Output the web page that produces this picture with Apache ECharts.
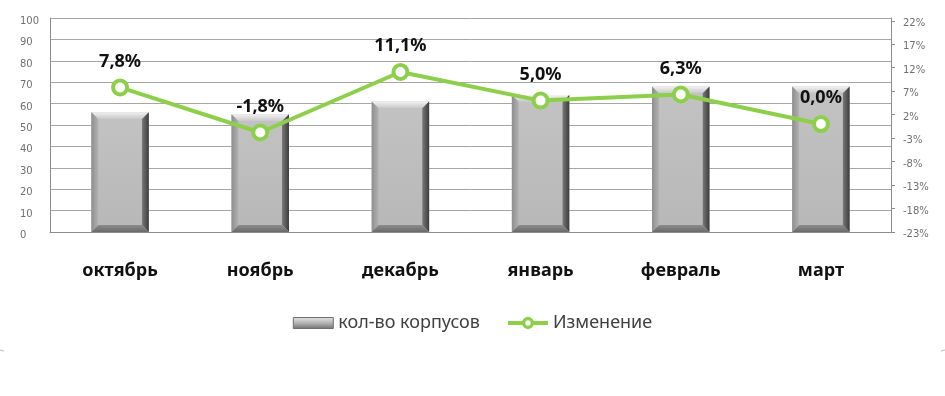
<!DOCTYPE html>
<html><head><meta charset="utf-8">
<script src="https://cdn.jsdelivr.net/npm/echarts@6/dist/echarts.min.js"></script>
<style>html,body{margin:0;padding:0;background:#fff}#c{width:945px;height:396px}</style>
</head><body><div id="c"></div>
<script>
const categories = ['октябрь','ноябрь','декабрь','январь','февраль','март'];
const buildings = [56, 55, 61, 64, 68, 68];
const changePct = [7.8, -1.8, 11.1, 5.0, 6.3, 0.0];
const rightTicks = [-23, -18, -13, -8, -3, 2, 7, 12, 17, 22];
const leftTicks = [0,10,20,30,40,50,60,70,80,90,100];

const G = echarts.graphic;
const chart = echarts.init(document.getElementById('c'));

function renderBevelBar(params, api){
  const idx = api.value(0), v = api.value(1);
  const top = api.coord([idx, v]), bot = api.coord([idx, 0]);
  const w = api.size([1,0])[0]*0.41;
  const x0 = top[0]-w/2, x1 = top[0]+w/2, y0 = top[1], y1 = bot[1], b = 7;
  return {type:'group', children:[
    {type:'rect', shape:{x:x0,y:y0,width:w,height:y1-y0}, style:{fill:'#bdbdbd'}},
    {type:'polygon', shape:{points:[[x0,y0],[x1,y0],[x1-b,y0+b],[x0+b,y0+b]]},
      style:{fill:new G.LinearGradient(0,0,0,1,[{offset:0,color:'#f2f2f2'},{offset:1,color:'#c6c6c6'}])}},
    {type:'polygon', shape:{points:[[x0,y0],[x0+b,y0+b],[x0+b,y1-b],[x0,y1]]},
      style:{fill:new G.LinearGradient(0,0,1,0,[{offset:0,color:'#8e8e8e'},{offset:1,color:'#b2b2b2'}])}},
    {type:'polygon', shape:{points:[[x1,y0],[x1,y1],[x1-b,y1-b],[x1-b,y0+b]]},
      style:{fill:new G.LinearGradient(0,0,1,0,[{offset:0,color:'#7a7a7a'},{offset:1,color:'#3c3c3c'}])}},
    {type:'polygon', shape:{points:[[x0,y1],[x0+b,y1-b],[x1-b,y1-b],[x1,y1]]},
      style:{fill:new G.LinearGradient(0,0,0,1,[{offset:0,color:'#8c8c8c'},{offset:1,color:'#6a6a6a'}])}},
    {type:'rect', shape:{x:x0+b,y:y0+b,width:w-2*b,height:Math.max(0,y1-y0-2*b)},
      style:{fill:new G.LinearGradient(0,0,0,1,[{offset:0,color:'#c2c2c2'},{offset:1,color:'#b8b8b8'}])}}
  ]};
}

chart.setOption({
  animation:false,
  grid:{left:50,right:54,top:18,bottom:164},
  legend:{
    bottom:59, left:'center', itemGap:26, itemWidth:40, itemHeight:11,
    textStyle:{fontFamily:'Noto Sans',fontSize:18,color:'#404040'},
    data:[
      {name:'кол-во корпусов', icon:'rect',
        itemStyle:{color:new G.LinearGradient(0,0,0,1,[{offset:0,color:'#e6e6e6'},{offset:0.5,color:'#b4b4b4'},{offset:1,color:'#6e6e6e'}]),
          borderColor:'#6e6e6e',borderWidth:1}},
      {name:'Изменение', itemStyle:{borderWidth:3.5}, lineStyle:{width:4}}
    ]
  },
  xAxis:{
    type:'category', data:categories,
    axisLine:{show:true,lineStyle:{color:'#8c8c8c'}},
    axisTick:{show:false},
    axisLabel:{margin:30,fontFamily:'Noto Sans',fontWeight:'bold',fontSize:18,color:'#111'}
  },
  yAxis:[{
    type:'value', min:0, max:100, interval:10,
    axisLine:{show:true,lineStyle:{color:'#8c8c8c'}},
    axisTick:{show:false},
    splitLine:{lineStyle:{color:'#a6a6a6'}},
    axisLabel:{align:'left',margin:30,verticalAlign:'top',lineHeight:7,fontFamily:'DejaVu Sans',fontSize:10,color:'#707070',
      customValues:leftTicks}
  },{
    type:'value', min:-23, max:22.6,
    position:'right',
    axisLine:{show:true,lineStyle:{color:'#8c8c8c'}},
    axisTick:{show:true,length:4,lineStyle:{color:'#8c8c8c'},customValues:rightTicks},
    splitLine:{show:false},
    axisLabel:{margin:12,verticalAlign:'top',lineHeight:5,fontFamily:'DejaVu Sans',fontSize:10,color:'#707070',
      customValues:rightTicks, formatter:v=>v+'%'}
  }],
  series:[{
    name:'кол-во корпусов', type:'custom', renderItem:renderBevelBar,
    data:buildings.map((v,i)=>[i,v]), encode:{x:0,y:1},
    itemStyle:{color:'#b4b4b4'}, z:2
  },{
    name:'Изменение', type:'line', yAxisIndex:1, data:changePct, z:3,
    lineStyle:{color:'#8dcf4a',width:4},
    itemStyle:{color:'#ffffff',borderColor:'#8dcf4a',borderWidth:4},
    symbol:'circle', symbolSize:14,
    label:{show:true,position:'top',distance:8,fontFamily:'Noto Sans',fontWeight:'bold',
      fontSize:18,color:'#111',formatter:p=>p.value.toFixed(1).replace('.',',')+'%'}
  }],
  graphic:[
    {type:'line',shape:{x1:0,y1:350,x2:4,y2:351},style:{stroke:'#bbb',lineWidth:1}},
    {type:'line',shape:{x1:941,y1:351,x2:945,y2:350},style:{stroke:'#bbb',lineWidth:1}}
  ]
});
</script></body></html>
